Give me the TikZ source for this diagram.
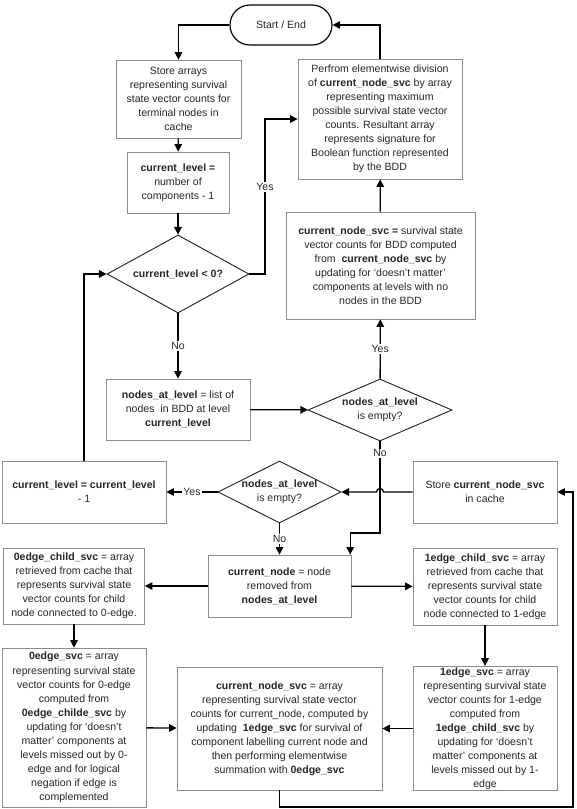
\documentclass[tikz,border=0pt]{standalone}
\usepackage{fontspec}
\setmainfont{Liberation Sans}
\usetikzlibrary{arrows.meta,calc,shapes.geometric}

\begin{document}
\begin{tikzpicture}[x=0.03cm, y=-0.03cm,
  every node/.style={font=\fontsize{9}{12}\selectfont, text=black!85},
  box/.style={draw=black!45, line width=0.6pt, fill=white, align=center, inner sep=1pt},
  decision/.style={diamond, draw=black!85, line width=0.8pt, align=center, inner sep=-6pt, aspect=2},
  terminal/.style={draw=black, line width=1pt, rounded corners=0.6cm, minimum width=3.06cm, minimum height=1.2cm},
  arr/.style={line width=1.1pt, -{Triangle[length=6.5pt,width=6.5pt]}},
  lbl/.style={fill=white, inner sep=1pt}]
  \useasboundingbox (0,0) rectangle (576,809);
  \node[terminal] (start) at (281,25) {Start / End};
  \node[box, minimum width=3.75cm, minimum height=2.34cm] (store) at (178.5,99) {Store arrays\\representing survival\\state vector counts for\\terminal nodes in\\cache};
  \node[box, minimum width=3.06cm, minimum height=1.83cm] (clevel) at (178,182.5) {\textbf{current\_level =}\\number of\\components - 1};
  \node[decision, minimum width=4.26cm, minimum height=2.34cm] (zerotest) at (178,274) {\textbf{current\_level < 0?}};
  \node[box, minimum width=4.92cm, minimum height=3.6cm] (perform) at (380,119) {Perfrom elementwise division\\of \textbf{current\_node\_svc} by array\\representing maximum\\possible survival state vector\\counts. Resultant array\\represents signature for\\Boolean function represented\\by the BDD};
  \node[box, minimum width=5.67cm, minimum height=3.21cm] (bddsvc) at (380.5,265.5) {\textbf{current\_node\_svc =} survival state\\vector counts for BDD computed\\from \ \textbf{current\_node\_svc} by\\updating for `doesn't matter'\\components at levels with no\\nodes in the BDD};
  \node[box, minimum width=4.32cm, minimum height=1.83cm] (levelnodes) at (178,409.5) {\textbf{nodes\_at\_level} = list of\\nodes \ in BDD at level\\\textbf{current\_level}};
  \node[decision, minimum width=4.32cm, minimum height=1.86cm] (emptyup) at (380,410) {\textbf{nodes\_at\_level}\\is empty?};
  \node[box, minimum width=4.92cm, minimum height=1.86cm] (declevel) at (84,492) {\textbf{current\_level = current\_level}\\- 1};
  \node[decision, minimum width=3.69cm, minimum height=1.86cm] (emptylow) at (279.5,492) {\textbf{nodes\_at\_level}\\is empty?};
  \node[box, minimum width=4.32cm, minimum height=1.86cm] (storesvc) at (485,492) {Store \textbf{current\_node\_svc}\\in cache};
  \node[box, minimum width=4.29cm, minimum height=1.86cm] (cnode) at (279.5,586) {\textbf{current\_node} = node\\removed from\\\textbf{nodes\_at\_level}};
  \node[box, minimum width=4.23cm, minimum height=2.28cm] (child0) at (74,586) {\textbf{0edge\_child\_svc} = array\\retrieved from cache that\\represents survival state\\vector counts for child\\node connected to 0-edge.};
  \node[box, minimum width=4.32cm, minimum height=2.31cm] (child1) at (485,586.5) {\textbf{1edge\_child\_svc} = array\\retrieved from cache that\\represents survival state\\vector counts for child\\node connected to 1-edge};
  \node[box, minimum width=4.32cm, minimum height=4.77cm] (svc0) at (74,727.5) {\textbf{0edge\_svc} = array\\representing survival state\\vector counts for 0-edge\\computed from\\\textbf{0edge\_childe\_svc} by\\updating for `doesn't\\matter' components at\\levels missed out by 0-\\edge and for logical\\negation if edge is\\complemented};
  \node[box, minimum width=6.15cm, minimum height=3.69cm] (cnsvc) at (279.5,728.5) {\textbf{current\_node\_svc} = array\\representing survival state vector\\counts for current\_node, computed by\\updating \ \textbf{1edge\_svc} for survival of\\component labelling current node and\\then performing elementwise\\summation with \textbf{0edge\_svc}};
  \node[box, minimum width=4.32cm, minimum height=3.69cm] (svc1) at (485,728.5) {\textbf{1edge\_svc} = array\\representing survival state\\vector counts for 1-edge\\computed from\\\textbf{1edge\_child\_svc} by\\updating for `doesn't\\matter' components at\\levels missed out by 1-\\edge};
  \coordinate (yesbend) at (265,274);
  \coordinate (nobend) at (380,533);
  \coordinate (hop) at (emptyup.south |- storesvc.west);
  \coordinate (loopcorner) at (573,807);
  \draw[arr] (start.west) -| (store.north);
  \draw[arr] (store) -- (clevel);
  \draw[arr] (clevel) -- (zerotest);
  \draw[arr] (zerotest.east) -- (yesbend) |- node[lbl, pos=0.28] {Yes} (perform.west);
  \draw[arr] (perform.north) |- (start.east);
  \draw[arr] (bddsvc) -- (perform);
  \draw[arr] (emptyup) -- node[lbl] {Yes} (bddsvc);
  \draw[arr] (zerotest) -- node[lbl] {No} (levelnodes);
  \draw[arr] (levelnodes) -- (emptyup);
  \draw[arr] (emptyup.south) -- node[lbl, pos=0.13] {No} (nobend) -| ([xshift=-1pt]cnode.north east);
  \draw[arr] (emptylow) -- node[lbl] {Yes} (declevel);
  \draw[arr] (declevel.north) |- (zerotest.west);
  \draw[arr] (storesvc.west) -- ([xshift=3pt]hop) arc[start angle=0, end angle=180, radius=3pt] -- (emptylow.east);
  \draw[arr] (emptylow) -- node[lbl] {No} (cnode);
  \draw[arr] (cnode) -- (child0);
  \draw[arr] (cnode) -- (child1);
  \draw[arr] (child0) -- (svc0);
  \draw[arr] (child1) -- (svc1);
  \draw[arr] (svc0) -- (cnsvc);
  \draw[arr] (svc1) -- (cnsvc);
  \draw[arr] (cnsvc.south) |- (loopcorner) |- (storesvc.east);
\end{tikzpicture}
\end{document}
